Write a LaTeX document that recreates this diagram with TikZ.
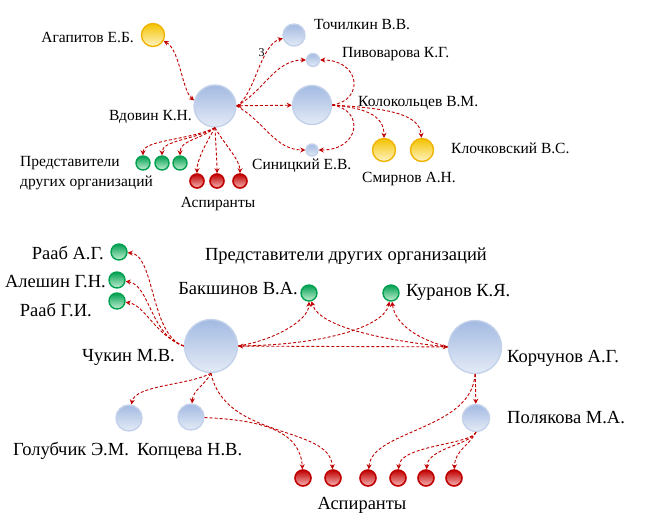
\documentclass[tikz,border=0pt]{standalone}
\usepackage{fontspec}
\setmainfont{Liberation Serif}
\usepackage{xcolor}
\definecolor{netring}{HTML}{C3D2EA}
\definecolor{nettop}{HTML}{A3BAE2}
\definecolor{netbot}{HTML}{E4EBF6}
\definecolor{netgold}{HTML}{F0B400}
\definecolor{netgoldlt}{HTML}{FFF3C4}
\definecolor{netgreen}{HTML}{00A050}
\definecolor{netgreenlt}{HTML}{C4F0D4}
\definecolor{netred}{HTML}{C00000}
\definecolor{netredlt}{HTML}{F6B4B4}
\usetikzlibrary{arrows.meta,positioning}
\tikzset{
  netblue/.style={circle,draw=netring,line width=1.4pt,top color=nettop,bottom color=netbot,inner sep=0pt},
  netyel/.style={circle,draw=netgold,line width=1.4pt,top color=netgold!80!yellow,bottom color=netgoldlt,inner sep=0pt,minimum size=23pt},
  netgrn/.style={circle,draw=netgreen,line width=1.4pt,top color=netgreen,bottom color=netgreenlt,inner sep=0pt,minimum size=14pt},
  netasp/.style={circle,draw=netred,line width=1.6pt,top color=netred,bottom color=netredlt,inner sep=0pt,minimum size=14pt},
  netflow/.style={draw=netred,line width=0.9pt,dash pattern=on 3pt off 2pt,-{Stealth[length=5pt,width=5pt]}},
  netboth/.style={netflow,{Stealth[length=5pt,width=5pt]}-{Stealth[length=5pt,width=5pt]}},
  netlabel/.style={inner sep=0pt,font=\fontsize{15.5}{20}\selectfont},
  netlabelbig/.style={inner sep=0pt,font=\fontsize{18.5}{22}\selectfont},
  netnum/.style={inner sep=0pt,font=\fontsize{12}{14}\selectfont},
}

\begin{document}
\begin{tikzpicture}[x=1pt,y=-1pt]
\useasboundingbox (0,0) rectangle (645,517);

% upper group
\node[netyel] (agap) at (153,35) {};
\node[netblue,minimum size=42pt] (vdovin) at (215,106) {};
\node[netblue,minimum size=22pt] (tochil) at (294,35) {};
\node[netblue,minimum size=13pt] (pivo) at (313,60) {};
\node[netblue,minimum size=39pt] (kolok) at (312,105) {};
\node[netblue,minimum size=12pt] (sinic) at (312,150) {};
\node[netyel] (smirn) at (384,150) {};
\node[netyel] (kloch) at (422,150) {};
\node[netgrn] (grA) at (143,163) {};
\node[netgrn] (grB) at (162,163) {};
\node[netgrn] (grC) at (180,163) {};
\node[netasp] (apA) at (197,181) {};
\node[netasp] (apB) at (217,181) {};
\node[netasp] (apC) at (240,181) {};

\node[netlabel,anchor=east] (agaplbl) at (134,37) {Агапитов Е.Б.};
\node[netlabel,anchor=east] (vdovinlbl) at (192,117) {Вдовин К.Н.};
\node[netlabel,anchor=west] (tochillbl) at (314,25) {Точилкин В.В.};
\node[netlabel,anchor=west] (pivolbl) at (342,54) {Пивоварова К.Г.};
\node[netlabel,anchor=west] (koloklbl) at (358,103) {Колокольцев В.М.};
\node[netlabel,anchor=west] (siniclbl) at (252,166) {Синицкий Е.В.};
\node[netlabel,anchor=west] (smirnlbl) at (362,179) {Смирнов А.Н.};
\node[netlabel,anchor=west] (klochlbl) at (451,148) {Клочковский В.С.};
\node[netlabel,anchor=west,align=left] (reprlbl) at (20,173) {Представители\\других организаций};
\node[netlabel] (asplbl) at (218,204) {Аспиранты};

\draw[netboth] (agap) .. controls (180,50) and (182,90) .. (vdovin.165);
\draw[netflow] (vdovin.east) .. controls (255,95) and (260,45) .. node[netnum,pos=0.72,left=2pt] (num3) {3} (tochil);
\draw[netflow] (vdovin.east) .. controls (265,90) and (275,60) .. (pivo);
\draw[netboth] (vdovin) -- (kolok);
\draw[netflow] (vdovin.east) .. controls (265,122) and (275,150) .. (sinic);
\draw[netflow] (kolok.east) .. controls (365,100) and (360,60) .. (pivo);
\draw[netflow] (kolok.east) .. controls (365,110) and (360,150) .. (sinic);
\draw[netflow] (kolok.east) .. controls (365,108) and (384,115) .. (smirn);
\draw[netflow] (kolok.east) .. controls (380,108) and (420,112) .. (kloch);
\draw[netflow] (vdovin.south) .. controls (190,140) and (143,140) .. (grA);
\draw[netflow] (vdovin.south) .. controls (195,140) and (162,140) .. (grB);
\draw[netflow] (vdovin.south) .. controls (200,140) and (180,140) .. (grC);
\draw[netflow] (vdovin.south) .. controls (205,145) and (197,160) .. (apA);
\draw[netflow] (vdovin.south) .. controls (216,150) and (217,160) .. (apB);
\draw[netflow] (vdovin.south) .. controls (225,145) and (240,160) .. (apC);

% lower group
\node[netgrn,minimum size=16pt] (raabA) at (119,252) {};
\node[netgrn,minimum size=16pt] (alesh) at (117,280) {};
\node[netgrn,minimum size=16pt] (raabB) at (117,301) {};
\node[netgrn,minimum size=16pt] (baksh) at (309,293) {};
\node[netgrn,minimum size=16pt] (kuran) at (391,293) {};
\node[netblue,minimum size=53pt] (chukin) at (211,346) {};
\node[netblue,minimum size=53pt] (korch) at (475,347) {};
\node[netblue,minimum size=26pt] (golub) at (129,418) {};
\node[netblue,minimum size=26pt] (kopc) at (191,417) {};
\node[netblue,minimum size=27pt] (polyak) at (476,418) {};
\node[netasp,minimum size=16pt] (aspA) at (303,478) {};
\node[netasp,minimum size=16pt] (aspB) at (333,478) {};
\node[netasp,minimum size=16pt] (aspC) at (368,478) {};
\node[netasp,minimum size=16pt] (aspD) at (398,478) {};
\node[netasp,minimum size=16pt] (aspE) at (426,478) {};
\node[netasp,minimum size=16pt] (aspF) at (454,478) {};

\node[netlabelbig,anchor=east] (raabAlbl) at (104,253) {Рааб А.Г.};
\node[netlabelbig,anchor=east] (aleshlbl) at (106,282) {Алешин Г.Н.};
\node[netlabelbig,anchor=east] (raabBlbl) at (92,310) {Рааб Г.И.};
\node[netlabelbig] (repr2lbl) at (346,256) {Представители других организаций};
\node[netlabelbig,anchor=east] (bakshlbl) at (298,289) {Бакшинов В.А.};
\node[netlabelbig,anchor=west] (kuranlbl) at (406,292) {Куранов К.Я.};
\node[netlabelbig,anchor=east] (chukinlbl) at (175,357) {Чукин М.В.};
\node[netlabelbig,anchor=west] (korchlbl) at (507,358) {Корчунов А.Г.};
\node[netlabelbig,anchor=west] (golublbl) at (13,451) {Голубчик Э.М.};
\node[netlabelbig,anchor=west] (kopclbl) at (137,451) {Копцева Н.В.};
\node[netlabelbig,anchor=west] (polyaklbl) at (507,418) {Полякова М.А.};
\node[netlabelbig] (asp2lbl) at (362,505) {Аспиранты};

\draw[netflow] (chukin.west) .. controls (150,335) and (155,255) .. (raabA);
\draw[netflow] (chukin.west) .. controls (150,335) and (150,285) .. (alesh);
\draw[netflow] (chukin.west) .. controls (155,335) and (145,305) .. (raabB);
\draw[netboth] (chukin) -- (korch);
\draw[netflow] (chukin.east) .. controls (275,340) and (309,320) .. (baksh);
\draw[netflow] (chukin.east) .. controls (330,345) and (385,325) .. (kuran);
\draw[netflow] (korch.west) .. controls (400,342) and (320,330) .. (baksh);
\draw[netflow] (korch.west) .. controls (420,340) and (395,325) .. (kuran);
\draw[netflow] (chukin.south) .. controls (190,385) and (135,385) .. (golub);
\draw[netflow] (chukin.south) .. controls (205,385) and (193,390) .. (kopc);
\draw[netflow] (chukin.south) .. controls (225,440) and (330,425) .. (aspB);
\draw[netflow] (kopc) .. controls (260,420) and (300,430) .. (aspA);
\draw[netflow] (korch) -- (polyak);
\draw[netflow] (korch.south) .. controls (472,430) and (372,430) .. (aspC);
\draw[netflow] (polyak.south) .. controls (470,445) and (400,445) .. (aspD);
\draw[netflow] (polyak.south) .. controls (470,445) and (428,448) .. (aspE);
\draw[netflow] (polyak.south) .. controls (470,445) and (455,450) .. (aspF);
\end{tikzpicture}
\end{document}
